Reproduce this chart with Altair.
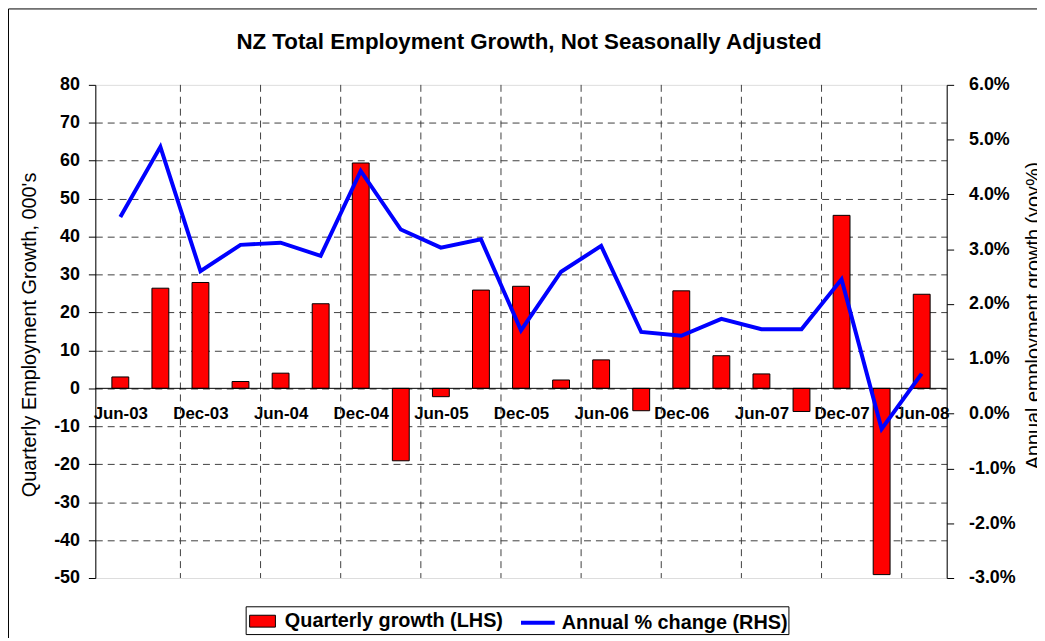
import json
import altair as alt
import pandas as pd

# ---- data ----
quarters = ["Jun-03", "Sep-03", "Dec-03", "Mar-04", "Jun-04", "Sep-04", "Dec-04",
            "Mar-05", "Jun-05", "Sep-05", "Dec-05", "Mar-06", "Jun-06", "Sep-06",
            "Dec-06", "Mar-07", "Jun-07", "Sep-07", "Dec-07", "Mar-08", "Jun-08"]
quarterly_growth = [3.0, 26.4, 27.9, 1.8, 4.0, 22.3, 59.4, -19.1, -2.2, 25.9, 26.9,
                    2.2, 7.5, -5.9, 25.7, 8.6, 3.8, -6.1, 45.6, -49.1, 24.8]
annual_change = [3.59, 4.87, 2.60, 3.08, 3.12, 2.88, 4.43, 3.36, 3.03, 3.18, 1.52,
                 2.59, 3.06, 1.49, 1.42, 1.73, 1.54, 1.54, 2.45, -0.28, 0.73]
series_names = ["Quarterly growth (LHS)", "Annual % change (RHS)"]
series_colors = ["#FF0000", "#0000FF"]
left_ticks = list(range(-50, 81, 10))
right_ticks = list(range(-3, 7, 1))
chart_title = "NZ Total Employment Growth, Not Seasonally Adjusted"

FONT = "Liberation Sans"
W, H = 858, 497
n = len(quarters)

df = pd.DataFrame({
    "idx": list(range(n)),
    "quarter": quarters,
    "growth": quarterly_growth,
    "annual": annual_change,
    "bar_series": series_names[0],
    "line_series": series_names[1],
})
grid_df = pd.DataFrame({"idx": [i + 0.5 for i in range(1, n - 1, 2)]})
zero_df = pd.DataFrame({"growth": [0]})
title_df = pd.DataFrame({"title": [chart_title]})
one_df = pd.DataFrame({"k": [0]})

x_scale = alt.Scale(domain=[-0.5, n - 0.5], nice=False, zero=False)
left_scale = alt.Scale(domain=[left_ticks[0], left_ticks[-1]], nice=False, zero=False)
right_scale = alt.Scale(domain=[right_ticks[0], right_ticks[-1]], nice=False, zero=False)

zero_offset = -H * (0 - left_ticks[0]) / (left_ticks[-1] - left_ticks[0])

x_axis = alt.Axis(
    values=list(range(0, n, 2)),
    labelExpr=json.dumps(quarters) + "[datum.value]",
    offset=zero_offset, domain=False, ticks=False, grid=False,
    labelFontSize=17, labelFontWeight="bold", labelPadding=17,
    labelFlush=False, labelOverlap=False, labelColor="black", title=None,
)

left_axis = alt.Axis(
    values=left_ticks, grid=True, gridDash=[7, 5], gridColor="#404040",
    gridOpacity={"condition": {"test": f"datum.value == {left_ticks[0]} || datum.value == {left_ticks[-1]}", "value": 0}, "value": 1},
    labelExpr="(datum.value < 0 ? '-' : '') + format(abs(datum.value), 'd')",
    domainColor="black", tickColor="black", tickSize=7,
    labelFontSize=18, labelFontWeight="bold", labelPadding=9, labelColor="black",
    title="Quarterly Employment Growth, 000's", titleFontSize=20, titleFontWeight="normal",
    titleX=-66, titleY=H / 2 + 3, titleAngle=270, titleBaseline="middle", titleAlign="center",
    titleColor="black",
)

right_axis = alt.Axis(
    orient="right", values=right_ticks, grid=False,
    labelExpr="(datum.value < 0 ? '-' : '') + format(abs(datum.value), '.1f') + '%'",
    domainColor="black", tickColor="black", tickSize=7,
    labelFontSize=18, labelFontWeight="bold", labelPadding=15, labelColor="black",
    title="Annual employment growth (yoy%)", titleFontSize=20, titleFontWeight="normal",
    titleX=88, titleY=232, titleAngle=270, titleBaseline="middle", titleAlign="center",
    titleColor="black",
)

frame = alt.Chart(one_df).mark_rect(fill="transparent", stroke="black", strokeWidth=1).encode(
    x=alt.value(-87.5), x2=alt.value(W + 120), y=alt.value(-76.5), y2=alt.value(H + 100)
)
legend_box = alt.Chart(one_df).mark_rect(fill="white", stroke="black", strokeWidth=1).encode(
    x=alt.value(152), x2=alt.value(699), y=alt.value(526), y2=alt.value(554)
)
title_mark = alt.Chart(title_df).mark_text(
    font=FONT, fontSize=22.5, fontWeight="bold", color="black", align="center", baseline="alphabetic"
).encode(text="title:N", x=alt.value(W / 2 + 8), y=alt.value(-36))

vgrid = alt.Chart(grid_df).mark_rule(color="#404040", strokeDash=[7, 5], strokeWidth=1).encode(
    x=alt.X("idx:Q", scale=x_scale, axis=x_axis)
)

bars = alt.Chart(df).mark_bar(size=17, stroke="black", strokeWidth=1).encode(
    x=alt.X("idx:Q", scale=x_scale, axis=x_axis),
    y=alt.Y("growth:Q", scale=left_scale, axis=left_axis),
    fill=alt.Fill("bar_series:N",
                  scale=alt.Scale(domain=[series_names[0]], range=[series_colors[0]]),
                  legend=alt.Legend(orient="none", legendX=155, legendY=527, direction="horizontal",
                                    title=None, symbolType="M-1,-0.46H1V0.46H-1Z", symbolSize=676,
                                    symbolStrokeColor="black", symbolStrokeWidth=1,
                                    labelFontSize=20, labelFontWeight="bold", labelFont=FONT,
                                    labelColor="black", labelOffset=9, padding=0, labelLimit=400)),
)

zero_rule = alt.Chart(zero_df).mark_rule(color="black", strokeWidth=1).encode(
    y=alt.Y("growth:Q", scale=left_scale, axis=left_axis)
)

left_group = alt.layer(frame, title_mark, legend_box, vgrid, bars, zero_rule)

line = alt.Chart(df).mark_line(strokeWidth=4).encode(
    x=alt.X("idx:Q", scale=x_scale, axis=x_axis),
    y=alt.Y("annual:Q", scale=right_scale, axis=right_axis),
    stroke=alt.Stroke("line_series:N",
                      scale=alt.Scale(domain=[series_names[1]], range=[series_colors[1]]),
                      legend=alt.Legend(orient="none", legendX=427, legendY=523, direction="horizontal",
                                        title=None, symbolType="stroke", symbolSize=1156,
                                        symbolStrokeWidth=4,
                                        labelFontSize=20, labelFontWeight="bold", labelFont=FONT,
                                        labelColor="black", labelOffset=5, padding=0, labelLimit=400)),
)

chart = alt.layer(left_group, line).resolve_scale(y="independent").properties(
    width=W, height=H,
    padding={"left": 88, "top": 75, "right": 91, "bottom": 58},
    autosize=alt.AutoSizeParams(type="none"),
).configure_view(stroke="#808080", strokeWidth=1).configure_axis(
    labelFont=FONT, titleFont=FONT
).configure(background="white")

chart.save("out.html", embed_options={"renderer": "svg", "actions": False})
